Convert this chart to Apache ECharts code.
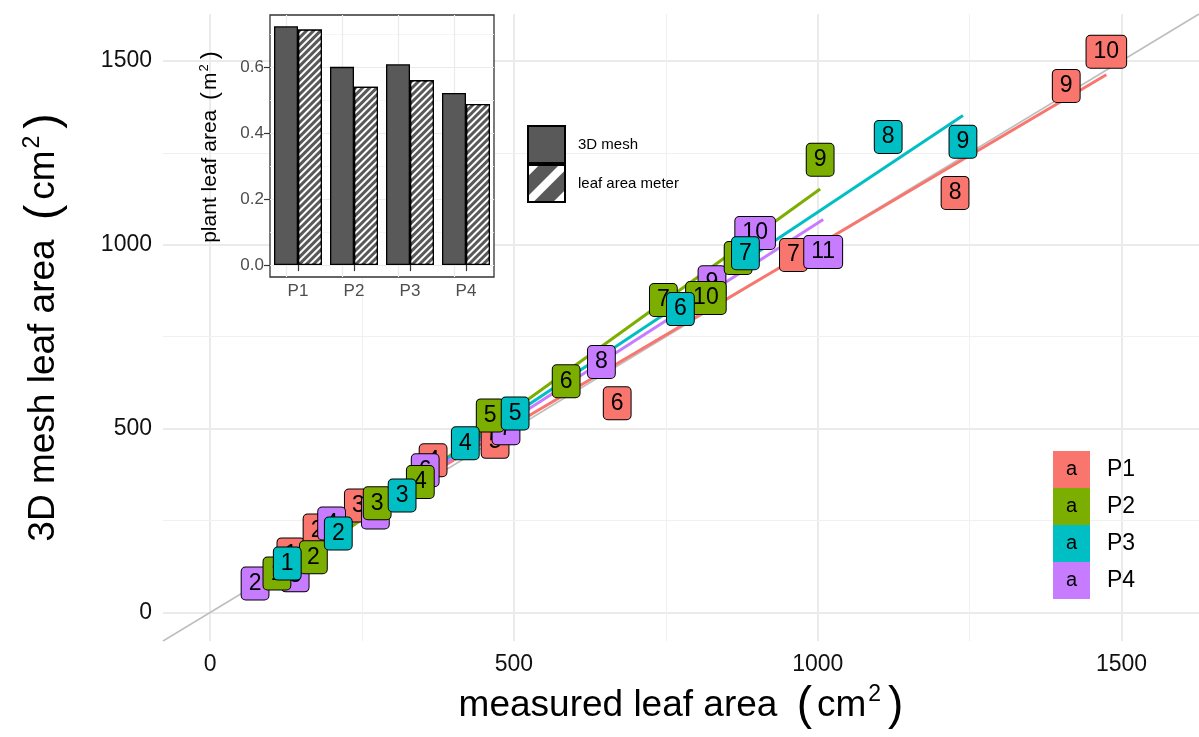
<!DOCTYPE html>
<html>
<head>
<meta charset="utf-8">
<title>3D mesh vs measured leaf area</title>
<script src="https://cdn.jsdelivr.net/npm/echarts@6/dist/echarts.min.js"></script>
<style>
  html, body { margin: 0; padding: 0; background: #fff; }
  #chart { width: 1199px; height: 737px; }
</style>
</head>
<body>
<div id="chart"></div>
<script>
var groups = ['P1', 'P2', 'P3', 'P4'];
var colors = ['#F8766D', '#7CAE00', '#00BFC4', '#C77CFF'];

// leaf number, measured leaf area (cm2), 3D mesh leaf area (cm2)
var leafP1 = [1, 2, 3, 4, 5, 6, 7, 8, 9, 10];
var measuredP1 = [133, 176, 244, 367, 469, 670, 960, 1226, 1409, 1475];
var meshP1 = [158, 223, 291, 414, 464, 569, 972, 1141, 1432, 1525];

var leafP2 = [1, 2, 3, 4, 5, 6, 7, 8, 9, 10];
var measuredP2 = [110, 170, 275, 346, 461, 586, 746, 869, 1004, 816];
var meshP2 = [106, 150, 297, 355, 536, 629, 850, 964, 1231, 855];

var leafP3 = [1, 2, 3, 4, 5, 6, 7, 8, 9];
var measuredP3 = [127, 211, 316, 420, 502, 774, 881, 1116, 1239];
var meshP3 = [133, 215, 318, 460, 541, 825, 977, 1293, 1280];

var leafP4 = [2, 3, 4, 5, 6, 7, 8, 9, 10, 11];
var measuredP4 = [74, 140, 200, 272, 354, 487, 644, 826, 897, 1009];
var meshP4 = [79, 101, 242, 272, 387, 501, 681, 898, 1032, 980];

// inset: plant leaf area (m2)
var barMesh = [0.723, 0.600, 0.608, 0.521];
var barMeter = [0.713, 0.540, 0.560, 0.488];

var axisRange = [-77.5, 1627.5];
var majorTicks = [0, 500, 1000, 1500];
var minorTicks = [250, 750, 1250];
var insetRange = [-0.036, 0.757];
var insetTicks = [0, 0.2, 0.4, 0.6];
var insetMinor = [0.1, 0.3, 0.5, 0.7];

var leaves = [leafP1, leafP2, leafP3, leafP4];
var measured = [measuredP1, measuredP2, measuredP3, measuredP4];
var mesh = [meshP1, meshP2, meshP3, meshP4];

var font = '"Liberation Sans", Arial, Helvetica, sans-serif';

function lmLine(xs, ys) {
    var n = xs.length, mx = 0, my = 0, sxy = 0, sxx = 0;
    for (var i = 0; i < n; i++) { mx += xs[i] / n; my += ys[i] / n; }
    for (var j = 0; j < n; j++) {
        sxy += (xs[j] - mx) * (ys[j] - my);
        sxx += (xs[j] - mx) * (xs[j] - mx);
    }
    var b = sxy / sxx, a = my - b * mx;
    var x0 = Math.min.apply(null, xs), x1 = Math.max.apply(null, xs);
    return [[x0, a + b * x0], [x1, a + b * x1]];
}

var gridMarks = [];
majorTicks.forEach(function (v) {
    gridMarks.push({ xAxis: v, lineStyle: { color: '#ebebeb', width: 2, type: 'solid' } });
    gridMarks.push({ yAxis: v, lineStyle: { color: '#ebebeb', width: 2, type: 'solid' } });
});
minorTicks.forEach(function (v) {
    gridMarks.push({ xAxis: v, lineStyle: { color: '#f0f0f0', width: 1, type: 'solid' } });
    gridMarks.push({ yAxis: v, lineStyle: { color: '#f0f0f0', width: 1, type: 'solid' } });
});

var insetMarks = [];
insetTicks.forEach(function (v) {
    insetMarks.push({ yAxis: v, lineStyle: { color: '#ebebeb', width: 1.2, type: 'solid' } });
});
insetMinor.forEach(function (v) {
    insetMarks.push({ yAxis: v, lineStyle: { color: '#f2f2f2', width: 0.8, type: 'solid' } });
});
groups.forEach(function (g) {
    insetMarks.push({ xAxis: g, lineStyle: { color: '#ebebeb', width: 1.2, type: 'solid' } });
});

var series = [];

// y = x reference line, also carries the panel grid lines
series.push({
    type: 'line',
    name: 'ref',
    data: [[axisRange[0], axisRange[0]], [axisRange[1], axisRange[1]]],
    symbol: 'none',
    lineStyle: { color: '#bebebe', width: 1.5 },
    clip: true,
    z: 2,
    silent: true,
    markLine: {
        silent: true,
        symbol: ['none', 'none'],
        label: { show: false },
        z: 1,
        animation: false,
        data: gridMarks
    }
});

// fitted lines
groups.forEach(function (g, i) {
    series.push({
        type: 'line',
        name: g + ' fit',
        data: lmLine(measured[i], mesh[i]),
        symbol: 'none',
        lineStyle: { color: colors[i], width: 3 },
        z: 3,
        silent: true
    });
});

// labelled points (drawing order P1, P4, P2, P3)
[0, 3, 1, 2].forEach(function (i, k) {
    var pts = measured[i].map(function (x, j) { return [x, mesh[i][j], leaves[i][j]]; });
    series.push({
        type: 'scatter',
        name: groups[i],
        data: pts,
        symbolSize: 1,
        itemStyle: { color: 'rgba(0,0,0,0)', opacity: 1 },
        z: 4 + k,
        silent: true,
        label: {
            show: true,
            position: 'inside',
            formatter: function (p) { return String(p.value[2]); },
            fontFamily: font,
            fontSize: 23,
            lineHeight: 23,
            color: '#000',
            opacity: 1,
            backgroundColor: colors[i],
            borderColor: '#000',
            borderWidth: 1,
            borderRadius: 4,
            padding: [5, 7, 4, 7]
        }
    });
});

var stripes = {
    symbol: 'rect',
    symbolSize: 1,
    dashArrayX: [1, 0],
    dashArrayY: [2, 3],
    rotation: -Math.PI / 4,
    color: '#ffffff'
};

// inset bars
series.push({
    type: 'bar',
    name: '3D mesh',
    xAxisIndex: 1,
    yAxisIndex: 1,
    data: barMesh,
    barWidth: 24,
    barGap: '0%',
    itemStyle: { color: '#595959', borderColor: '#000', borderWidth: 1.3 },
    z: 10,
    silent: true,
    markLine: {
        silent: true,
        symbol: ['none', 'none'],
        label: { show: false },
        z: 9,
        animation: false,
        data: insetMarks
    }
});
series.push({
    type: 'bar',
    name: 'leaf area meter',
    xAxisIndex: 1,
    yAxisIndex: 1,
    data: barMeter,
    barWidth: 24,
    barGap: '0%',
    itemStyle: { color: '#595959', borderColor: '#000', borderWidth: 1.3, decal: stripes },
    z: 10,
    silent: true
});

var keyRich = { t: { fontFamily: font, fontSize: 23, color: '#000', padding: [0, 0, 0, 17] } };
colors.forEach(function (c, i) {
    keyRich['k' + i] = {
        fontFamily: font, fontSize: 20, color: '#000',
        width: 37, height: 37, lineHeight: 37,
        align: 'center', backgroundColor: c
    };
});

var titleRich = {
    t: { fontSize: 37, color: '#000', fontFamily: font },
    pl: { fontSize: 46, color: '#000', fontFamily: font, padding: [0, 5, 0, 9] },
    pr: { fontSize: 46, color: '#000', fontFamily: font, padding: [0, 0, 0, 5] },
    s: { fontSize: 23, color: '#000', fontFamily: font, verticalAlign: 'top', padding: [0, 2, 0, 2] }
};

var chart = echarts.init(document.getElementById('chart'));
chart.setOption({
    animation: false,
    backgroundColor: '#fff',
    textStyle: { fontFamily: font },
    grid: [
        { left: 163, right: 0, top: 14, bottom: 96 },
        { left: 270, top: 15, width: 224, height: 262, show: true, backgroundColor: '#fff',
          borderColor: '#333', borderWidth: 1.3, z: 8 }
    ],
    xAxis: [
        {
            type: 'value', gridIndex: 0, min: axisRange[0], max: axisRange[1],
            axisLine: { show: false }, axisTick: { show: false }, splitLine: { show: false },
            axisLabel: {
                customValues: majorTicks, fontSize: 23, color: '#111', margin: 12, fontFamily: font,
                formatter: function (v) { return String(v); }
            },
            name: '{t|measured leaf area }{pl|(}{t|cm}{s|2}{pr|)}',
            nameLocation: 'middle', nameGap: 42,
            nameTextStyle: { rich: titleRich }
        },
        {
            type: 'category', gridIndex: 1, data: groups, z: 9,
            axisLine: { show: false },
            axisTick: { show: true, alignWithLabel: true, length: 6, lineStyle: { color: '#333', width: 1.2 } },
            axisLabel: { fontSize: 17, color: '#4d4d4d', margin: 6, fontFamily: font },
            splitLine: { show: false }
        }
    ],
    yAxis: [
        {
            type: 'value', gridIndex: 0, min: axisRange[0], max: axisRange[1],
            axisLine: { show: false }, axisTick: { show: false }, splitLine: { show: false },
            axisLabel: {
                customValues: majorTicks, fontSize: 23, color: '#111', margin: 11, fontFamily: font,
                formatter: function (v) { return String(v); }
            },
            name: '{t|3D mesh leaf area }{pl|(}{t|cm}{s|2}{pr|)}',
            nameLocation: 'middle', nameRotate: 90, nameGap: 96,
            nameTextStyle: { rich: titleRich }
        },
        {
            type: 'value', gridIndex: 1, min: insetRange[0], max: insetRange[1], z: 9,
            axisLine: { show: false }, splitLine: { show: false },
            axisTick: { show: true, customValues: insetTicks, length: 6, lineStyle: { color: '#333', width: 1.2 } },
            axisLabel: {
                customValues: insetTicks, fontSize: 17, color: '#4d4d4d', margin: 6, fontFamily: font,
                formatter: function (v) { return v.toFixed(1); }
            },
            name: '{t|plant leaf area }{p|(}{t|m}{s|2}{p|)}',
            nameLocation: 'middle', nameRotate: 90, nameGap: 48,
            nameTextStyle: {
                rich: {
                    t: { fontSize: 21, color: '#000', fontFamily: font },
                    p: { fontSize: 24, color: '#000', fontFamily: font, padding: [0, 2, 0, 4] },
                    s: { fontSize: 13, color: '#000', fontFamily: font, verticalAlign: 'top', padding: [0, 1, 0, 1] }
                }
            }
        }
    ],
    legend: [
        {
            data: groups,
            orient: 'vertical',
            left: 1047,
            top: 451,
            padding: 0,
            itemGap: 0,
            itemWidth: 1,
            itemHeight: 1,
            selectedMode: false,
            z: 10,
            formatter: function (name) {
                return '{k' + groups.indexOf(name) + '|a}{t|' + name + '}';
            },
            textStyle: { rich: keyRich }
        },
        {
            data: [
                { name: '3D mesh' },
                { name: 'leaf area meter', itemStyle: { decal: {
                    symbol: 'rect', symbolSize: 1, dashArrayX: [1, 0], dashArrayY: [8, 14],
                    rotation: -Math.PI / 4, color: '#ffffff' } } }
            ],
            orient: 'vertical',
            left: 527,
            top: 125,
            padding: 0,
            itemGap: 0,
            itemWidth: 37,
            itemHeight: 37,
            icon: 'rect',
            selectedMode: false,
            z: 10,
            formatter: function (name) { return '{t|' + name + '}'; },
            textStyle: { rich: { t: { fontFamily: font, fontSize: 15, color: '#000', padding: [0, 0, 0, 8] } } }
        }
    ],
    series: series
});
</script>
</body>
</html>
